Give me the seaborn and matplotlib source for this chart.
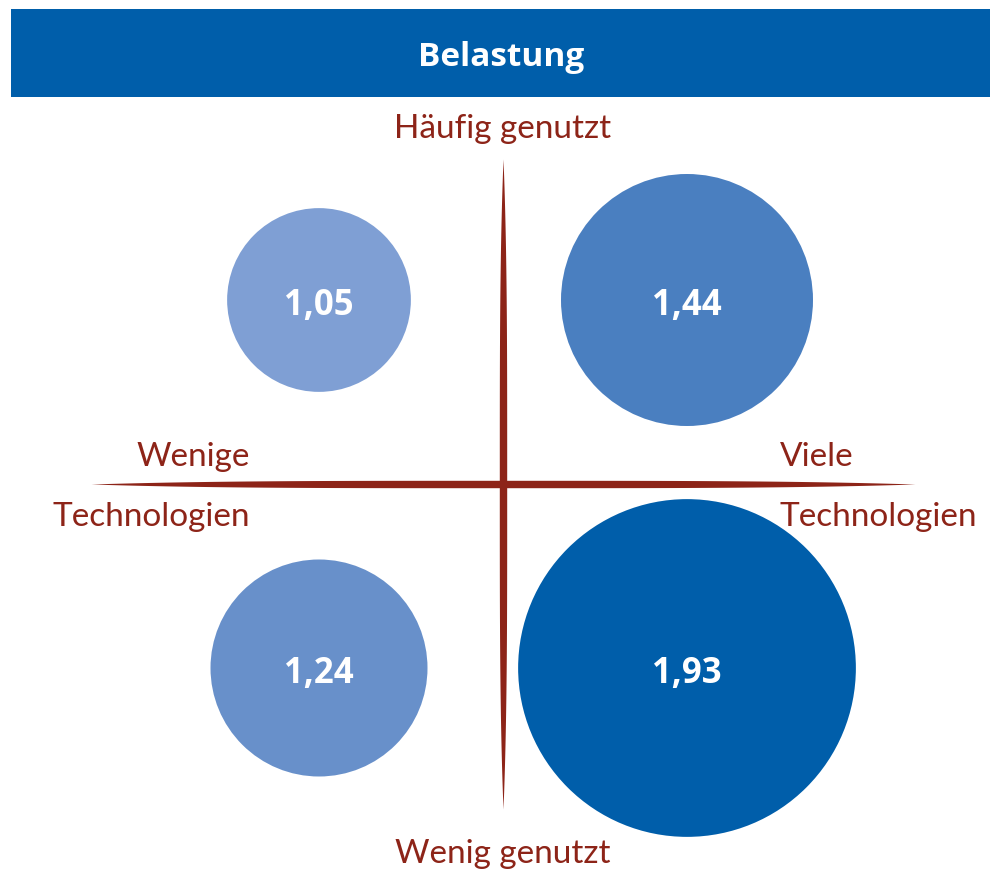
import numpy as np
import pandas as pd
import matplotlib.pyplot as plt
import seaborn as sns
from matplotlib.patches import Rectangle

# Daten
technologien = ["Wenige", "Viele", "Wenige", "Viele"]
nutzung = ["Häufig", "Häufig", "Wenig", "Wenig"]
belastung = [1.05, 1.44, 1.24, 1.93]
farben = ["#7f9fd4", "#4a7fc0", "#6890ca", "#005eaa"]

titel = "Belastung"
y_oben = "Häufig genutzt"
y_unten = "Wenig genutzt"
x_links = ["Wenige", "Technologien"]
x_rechts = ["Viele", "Technologien"]

ROT = "#8d2418"
BLAU = "#005eaa"

W, H = 990, 870
CX, CY = 503, 485      # Mittelpunkt des Kreuzes (Pixel)
U = 184                # Pixel pro Dateneinheit
R_PRO_WERT = 87.5      # Kreisradius in Pixel pro Belastungspunkt


def px(x):
    return (x - CX) / U


def py(y):
    return (CY - y) / U


def main():
    sns.set_style("white")
    plt.rcParams["font.family"] = ["Lato", "DejaVu Sans"]

    df = pd.DataFrame({
        "Technologien": technologien,
        "Nutzung": nutzung,
        "Belastung": belastung,
    })
    df["x"] = df["Technologien"].map({"Wenige": -1, "Viele": 1})
    df["y"] = df["Nutzung"].map({"Häufig": 1, "Wenig": -1})
    df["label"] = df["Belastung"].map(lambda v: f"{v:.2f}".replace(".", ","))
    # Markerfläche: Durchmesser in Punkten (dpi 100)
    groessen = (2 * R_PRO_WERT * df["Belastung"] * 72 / 100) ** 2

    fig = plt.figure(figsize=(9.9, 8.7), dpi=100)
    ax = fig.add_axes([0, 0, 1, 1])
    ax.set_xlim(px(0), px(W))
    ax.set_ylim(py(H), py(0))
    ax.axis("off")

    # Kopfzeile
    ax.add_patch(Rectangle((px(11), py(98)), (W - 11) / U, 88 / U,
                           color=BLAU, lw=0, zorder=1))
    ax.text(px(501), py(66), titel, color="white", fontsize=24,
            fontweight="bold", family=["Open Sans", "DejaVu Sans"],
            ha="center", va="baseline", zorder=2)

    # Achsenkreuz, zu den Enden hin spitz zulaufend
    t = np.linspace(-1, 1, 600)
    halb = 3.7 / U * (1 - np.abs(t) ** 3.5)
    ax.fill_between(t * 412 / U, -halb, halb, color=ROT, lw=0, zorder=3)
    ax.fill_betweenx(t * 325 / U, -halb, halb, color=ROT, lw=0, zorder=3)

    # Blasen
    sns.scatterplot(data=df, x="x", y="y", hue="label",
                    palette=dict(zip(df["label"], farben)),
                    s=groessen, linewidth=0, legend=False, ax=ax, zorder=4)
    for _, row in df.iterrows():
        ax.text(row["x"], row["y"] - 14 / U, row["label"], color="white",
                fontsize=25, fontweight="bold",
                family=["Open Sans", "DejaVu Sans"],
                ha="center", va="baseline", zorder=5)

    # Achsenbeschriftungen
    kw = dict(color=ROT, fontsize=24, va="baseline", zorder=5)
    ax.text(px(503), py(138), y_oben, ha="center", **kw)
    ax.text(px(503), py(863), y_unten, ha="center", **kw)
    ax.text(px(250), py(466), x_links[0], ha="right", **kw)
    ax.text(px(250), py(526), x_links[1], ha="right", **kw)
    ax.text(px(780), py(466), x_rechts[0], ha="left", **kw)
    ax.text(px(780), py(526), x_rechts[1], ha="left", **kw)

    fig.savefig("out.png", dpi=100)


if __name__ == "__main__":
    main()
